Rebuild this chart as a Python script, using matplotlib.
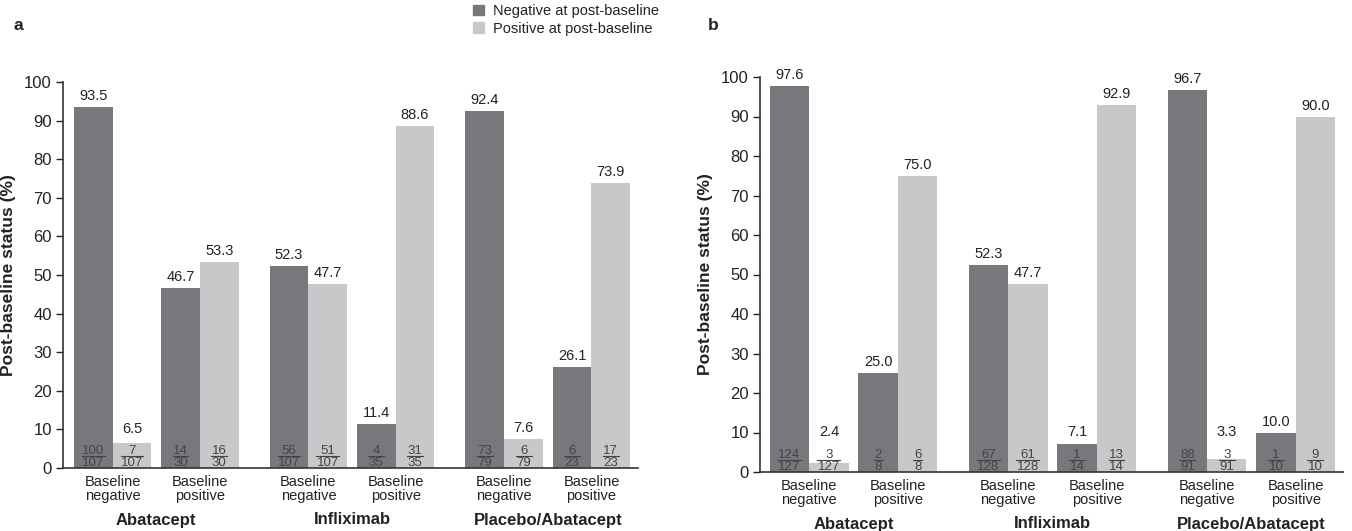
import matplotlib
matplotlib.use('Agg')
import matplotlib.pyplot as plt
import matplotlib.transforms as mtransforms
from matplotlib.patches import Patch
from matplotlib.lines import Line2D
import numpy as np

plt.rcParams['font.family'] = ['Liberation Sans Narrow', 'Liberation Sans', 'DejaVu Sans']

# data
groups = ['Abatacept', 'Infliximab', 'Placebo/Abatacept']
categories = ['Baseline\nnegative', 'Baseline\npositive']
series = ['Negative at post-baseline', 'Positive at post-baseline']

a_neg_pct = [93.5, 46.7, 52.3, 11.4, 92.4, 26.1]
a_pos_pct = [6.5, 53.3, 47.7, 88.6, 7.6, 73.9]
a_neg_n = [100, 14, 56, 4, 73, 6]
a_pos_n = [7, 16, 51, 31, 6, 17]
a_total = [107, 30, 107, 35, 79, 23]

b_neg_pct = [97.6, 25.0, 52.3, 7.1, 96.7, 10.0]
b_pos_pct = [2.4, 75.0, 47.7, 92.9, 3.3, 90.0]
b_neg_n = [124, 2, 67, 1, 88, 1]
b_pos_n = [3, 6, 61, 13, 3, 9]
b_total = [127, 8, 128, 14, 91, 10]

DARK = '#77787b'
LIGHT = '#c7c8ca'
TXT = '#222222'
FRAC = '#444444'

group_step = 5.05
pair_step = 2.25
width = 1.0
pair_x = np.array([g * group_step + p * pair_step for g in range(len(groups)) for p in range(len(categories))])
group_x = np.array([g * group_step + pair_step / 2 for g in range(len(groups))])

# short bars get their value label lifted above the fraction
label_floor = 7.3


def fraction(ax, fig, x, num, den, px_per_unit):
    num, den = str(num), str(den)
    ax.annotate(den, xy=(x, 0), xytext=(0, 2), textcoords='offset pixels',
                ha='center', va='baseline', fontsize=9.5, color=FRAC)
    ax.annotate(num, xy=(x, 0), xytext=(0, 13.5), textcoords='offset pixels',
                ha='center', va='baseline', fontsize=9.5, color=FRAC)
    hw = (max(len(num), len(den)) * 7.0 + 2) / 2 / px_per_unit
    off = mtransforms.ScaledTranslation(0, 12 / fig.dpi, fig.dpi_scale_trans)
    ax.add_line(Line2D([x - hw, x + hw], [0, 0], color=FRAC, lw=0.8,
                       transform=ax.transData + off))


def panel(ax, fig, neg_pct, pos_pct, neg_n, pos_n, total, xlim, px_per_unit):
    ax.bar(pair_x - width / 2, neg_pct, width, color=DARK)
    ax.bar(pair_x + width / 2, pos_pct, width, color=LIGHT)
    for i, x in enumerate(pair_x):
        for xc, v, n in ((x - width / 2, neg_pct[i], neg_n[i]), (x + width / 2, pos_pct[i], pos_n[i])):
            ax.annotate(f'{v:.1f}', xy=(xc, max(v, label_floor)), xytext=(0, 4),
                        textcoords='offset pixels', ha='center', va='bottom',
                        fontsize=10.5, color=TXT)
            fraction(ax, fig, xc, n, total[i], px_per_unit)
    ax.set_ylim(0, 100)
    ax.set_xlim(*xlim)
    ax.set_yticks(range(0, 101, 10))
    ax.set_xticks(pair_x)
    ax.set_xticklabels(categories * len(groups), fontsize=10.5, color=TXT, linespacing=1.0)
    ax.tick_params(axis='x', length=0, pad=5)
    ax.tick_params(axis='y', length=5, width=1, labelsize=12, colors=TXT, pad=3)
    for s in ('top', 'right'):
        ax.spines[s].set_visible(False)
    for s in ('left', 'bottom'):
        ax.spines[s].set_color('#333333')
        ax.spines[s].set_linewidth(1.2)
    ax.set_ylabel('Post-baseline status (%)', fontsize=12.5, fontweight='bold', color=TXT, labelpad=6)
    for gx, g in zip(group_x, groups):
        ax.annotate(g, xy=(gx, 0), xycoords=('data', 'axes fraction'), xytext=(0, -52),
                    textcoords='offset pixels', ha='center', va='center',
                    fontsize=12, fontweight='bold', color=TXT)


fig = plt.figure(figsize=(13.52, 5.31), dpi=100)
ax_a = fig.add_axes([63 / 1352, 63 / 531, 575 / 1352, 386 / 531])
ax_b = fig.add_axes([760 / 1352, 59 / 531, 583 / 1352, 395 / 531])

panel(ax_a, fig, a_neg_pct, a_pos_pct, a_neg_n, a_pos_n, a_total, (-1.28, 13.55), 39)
panel(ax_b, fig, b_neg_pct, b_pos_pct, b_neg_n, b_pos_n, b_total, (-1.25, 13.55), 39.5)

fig.text(13 / 1352, 1 - 25 / 531, 'a', fontsize=12.5, fontweight='bold', va='center', color=TXT)
fig.text(708 / 1352, 1 - 25 / 531, 'b', fontsize=12.5, fontweight='bold', va='center', color=TXT)

handles = [Patch(color=DARK), Patch(color=LIGHT)]
fig.legend(handles, series, loc='upper left', bbox_to_anchor=(473 / 1352, 1 - 4 / 531),
           frameon=False, fontsize=10.5, handlelength=0.75, handleheight=0.75,
           handletextpad=0.6, labelspacing=0.25, borderpad=0, borderaxespad=0,
           labelcolor=TXT)

fig.savefig('out.png', dpi=100)
